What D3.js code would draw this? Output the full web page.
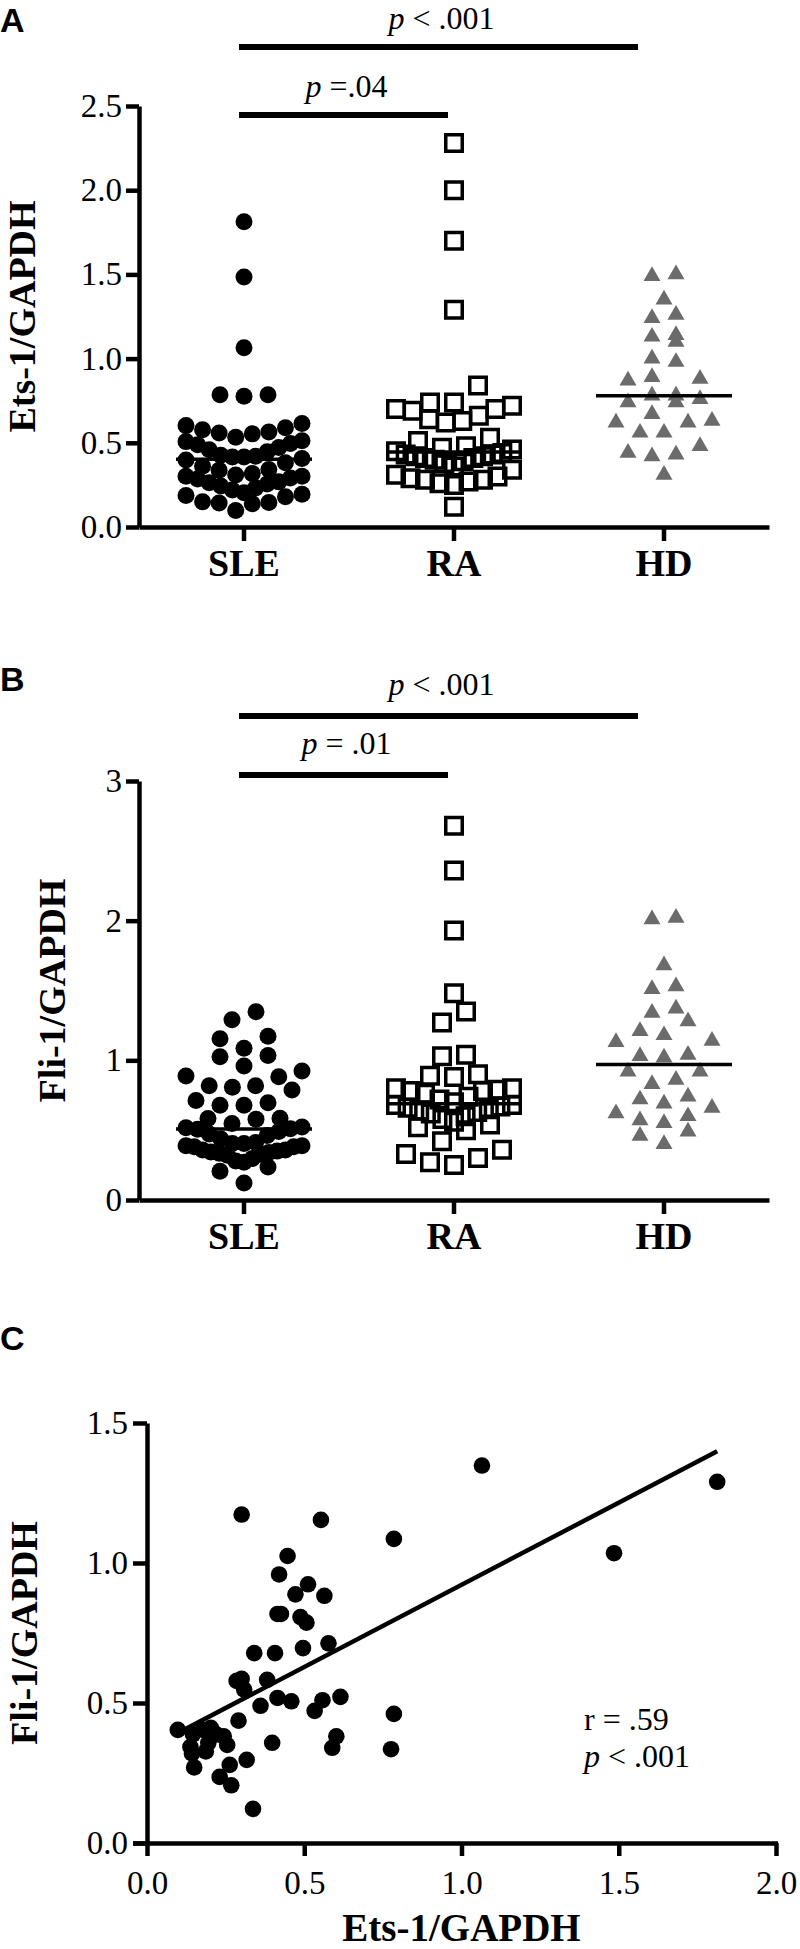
<!DOCTYPE html>
<html lang="en">
<head>
<meta charset="UTF-8">
<title>Ets-1 and Fli-1 expression in SLE, RA and HD</title>
<script src="https://cdn.jsdelivr.net/npm/d3@7"></script>
<style>
    body { margin: 0; background: #fff; }
</style>
</head>
<body>
<script>
    // SLE patients, paired values (same patients in A, B and C)
    var sleEts = [1.065, 1.813, 1.485, 0.785, 0.301, 0.553, 0.447, 0.42, 0.512, 0.472,
        0.564, 0.415, 0.426, 0.488, 0.507, 0.496, 0.577, 0.341, 0.407, 0.285,
        0.301, 0.309, 0.382, 0.361, 0.415, 0.459, 0.533, 0.558, 0.615, 0.291,
        0.098, 0.146, 0.179, 0.203, 0.22, 0.244, 0.195, 0.255, 0.138, 0.143,
        0.187, 0.398, 0.602, 0.589, 0.785, 0.776, 0.15, 0.317, 0.231, 0.263,
        0.268, 0.337];
    var sleFli = [1.348, 1.29, 1.035, 1.086, 1.173, 1.154, 1.025, 0.959, 0.924, 0.888,
        0.883, 0.818, 0.818, 0.807, 0.787, 0.696, 0.713, 0.678, 0.678, 0.579,
        0.586, 0.548, 0.583, 0.49, 0.518, 0.506, 0.472, 0.51, 0.522, 0.437,
        0.404, 0.388, 0.404, 0.411, 0.388, 0.381, 0.358, 0.35, 0.343, 0.32,
        0.327, 0.358, 0.381, 0.34, 0.461, 0.335, 0.27, 0.297, 0.236, 0.279,
        0.206, 0.122];
    var raEts = [2.28, 2.00, 1.70, 1.29, 0.84, 0.74, 0.74, 0.72, 0.70, 0.70,
        0.69, 0.66, 0.64, 0.63, 0.62, 0.53, 0.51, 0.48, 0.47, 0.46,
        0.45, 0.44, 0.43, 0.43, 0.42, 0.42, 0.41, 0.41, 0.40, 0.39,
        0.38, 0.36, 0.34, 0.31, 0.30, 0.29, 0.28, 0.28, 0.27, 0.26,
        0.25, 0.12];
    var hdEts = [1.50, 1.49, 1.35, 1.26, 1.24, 1.14, 1.13, 1.10, 1.00, 0.98,
        0.89, 0.88, 0.87, 0.78, 0.78, 0.76, 0.74, 0.74, 0.67, 0.63,
        0.62, 0.62, 0.56, 0.56, 0.48, 0.44, 0.43, 0.42, 0.31];
    var raFli = [2.68, 2.36, 1.93, 1.48, 1.35, 1.27, 1.04, 1.03, 0.90, 0.89,
        0.88, 0.80, 0.80, 0.79, 0.78, 0.78, 0.76, 0.74, 0.72, 0.70,
        0.68, 0.68, 0.67, 0.66, 0.65, 0.64, 0.63, 0.62, 0.60, 0.58,
        0.56, 0.54, 0.52, 0.50, 0.42, 0.36, 0.33, 0.30, 0.27, 0.25];
    var hdFli = [2.02, 2.01, 1.68, 1.53, 1.51, 1.37, 1.34, 1.28, 1.21, 1.18,
        1.14, 1.13, 1.04, 1.03, 1.02, 0.92, 0.92, 0.86, 0.83, 0.74,
        0.72, 0.69, 0.66, 0.62, 0.60, 0.57, 0.55, 0.49, 0.46, 0.40];

    var groups = ["SLE", "RA", "HD"];
    var etsTicks = [0, 0.5, 1, 1.5, 2, 2.5];
    var fliTicks = [0, 1, 2, 3];
    var corrXTicks = [0, 0.5, 1, 1.5, 2];
    var corrYTicks = [0, 0.5, 1, 1.5];
    // least squares line drawn in panel C (ends at min / max Ets-1)
    var fitLine = [[0.098, 0.393], [1.813, 1.399]];
    var pTextsA = ["=.04", "< .001"];
    var pTextsB = ["= .01", "< .001"];
    var corrTexts = ["r = .59", "< .001"];

    var serif = "'Liberation Serif', 'Times New Roman', serif";
    var sans = "'Liberation Sans', Arial, sans-serif";
    var W = 800, H = 1949;

    var svg = d3.select("body").append("svg")
        .attr("width", W)
        .attr("height", H);

    var markers = {
        SLE: { shape: d3.symbolCircle, size: Math.PI * 8.5 * 8.5, fill: "#000", stroke: "none", sw: 0 },
        RA: { shape: d3.symbolSquare, size: 16.5 * 16.5, fill: "none", stroke: "#000", sw: 3.5 },
        HD: { shape: d3.symbolTriangle, size: 125, fill: "#6b6b6b", stroke: "none", sw: 0 }
    };

    // GraphPad style column scatter: values are grouped in rows, the lowest
    // value of a row sits in the middle and the rest spread out to both sides
    function columnSwarm(values, y, binPx, gap, half) {
        var pts = values.map(function (v) { return { v: v, py: y(v) }; })
            .sort(function (a, b) { return a.v - b.v; });
        var bins = [], cur = null;
        pts.forEach(function (p) {
            if (!cur || cur.start - p.py > binPx) {
                cur = { start: p.py, items: [] };
                bins.push(cur);
            }
            cur.items.push(p);
        });
        bins.forEach(function (b) {
            var n = b.items.length;
            var step = n > 1 ? Math.min(gap, 2 * half / (n - 1)) : 0;
            b.items.forEach(function (p, i) {
                var k;
                if (n % 2) {
                    k = i === 0 ? 0 : (i % 2 ? -(i + 1) / 2 : i / 2);
                } else {
                    k = (i % 2 ? 1 : -1) * (Math.floor(i / 2) + 0.5);
                }
                p.dx = k * step;
            });
        });
        return pts;
    }

    function styleAxis(g, fontSize, bold) {
        g.attr("font-family", serif)
            .attr("font-size", fontSize)
            .attr("font-weight", bold ? "bold" : "normal");
        g.select(".domain").attr("stroke-width", 4.5);
        g.selectAll(".tick line").attr("stroke-width", 4.5);
        g.selectAll(".tick text").attr("fill", "#000");
    }

    function pLabel(parent, cx, baseline, rest) {
        var t = parent.append("text")
            .attr("x", cx)
            .attr("y", baseline)
            .attr("text-anchor", "middle")
            .attr("font-family", serif)
            .attr("font-size", 32);
        t.append("tspan").attr("font-style", "italic").text("p");
        t.append("tspan").text(" " + rest);
    }

    function dotPanel(cfg) {
        var g = svg.append("g");
        var x = d3.scaleBand().domain(groups).range([cfg.left, cfg.right]);
        var y = d3.scaleLinear().domain(cfg.domain).range([cfg.bottom, cfg.top]);
        var cx = function (d) { return x(d) + x.bandwidth() / 2; };

        g.append("text")
            .attr("x", 0)
            .attr("y", cfg.letterY)
            .attr("font-family", sans)
            .attr("font-weight", "bold")
            .attr("font-size", 34)
            .text(cfg.letter);

        var ya = g.append("g")
            .attr("transform", "translate(" + cfg.left + ",0)")
            .call(d3.axisLeft(y).tickValues(cfg.ticks).tickFormat(cfg.fmt)
                .tickSize(13).tickSizeOuter(0).tickPadding(4));
        styleAxis(ya, 33, false);

        var xa = g.append("g")
            .attr("transform", "translate(0," + cfg.bottom + ")")
            .call(d3.axisBottom(x).tickSize(14).tickSizeOuter(0).tickPadding(8));
        styleAxis(xa, 38, true);

        g.append("text")
            .attr("transform", "translate(" + cfg.titleX + "," + (cfg.top + cfg.bottom) / 2 + ") rotate(-90)")
            .attr("text-anchor", "middle")
            .attr("font-family", serif)
            .attr("font-weight", "bold")
            .attr("font-size", 38)
            .text(cfg.title);

        cfg.series.forEach(function (vals, gi) {
            var name = groups[gi];
            var m = markers[name];
            var pts = columnSwarm(vals, y, 17, 24, 58);
            g.append("g").selectAll("path")
                .data(pts)
                .enter()
                .append("path")
                .attr("d", d3.symbol().type(m.shape).size(m.size))
                .attr("transform", function (d) {
                    return "translate(" + (cx(name) + d.dx) + "," + d.py + ")";
                })
                .attr("fill", m.fill)
                .attr("stroke", m.stroke)
                .attr("stroke-width", m.sw);
            var med = d3.median(vals);
            g.append("line")
                .attr("x1", cx(name) - 68)
                .attr("x2", cx(name) + 68)
                .attr("y1", y(med))
                .attr("y2", y(med))
                .attr("stroke", "#000")
                .attr("stroke-width", 3.5);
        });

        // significance brackets: SLE vs RA (lower) and SLE vs HD (upper)
        var bars = [
            { x1: cx("SLE") - 5, x2: cx("RA") - 6, y: cfg.barY[0], ty: cfg.textY[0], t: cfg.pTexts[0] },
            { x1: cx("SLE") - 5, x2: cx("HD") - 26, y: cfg.barY[1], ty: cfg.textY[1], t: cfg.pTexts[1] }
        ];
        bars.forEach(function (b) {
            g.append("line")
                .attr("x1", b.x1).attr("x2", b.x2)
                .attr("y1", b.y).attr("y2", b.y)
                .attr("stroke", "#000")
                .attr("stroke-width", 6);
            pLabel(g, (b.x1 + b.x2) / 2 + 3, b.ty, b.t);
        });
    }

    dotPanel({
        letter: "A", letterY: 32,
        left: 139, right: 769, top: 106, bottom: 527,
        domain: [0, 2.5], ticks: etsTicks, fmt: d3.format(".1f"),
        title: "Ets-1/GAPDH", titleX: 35,
        series: [sleEts, raEts, hdEts],
        barY: [115, 47], textY: [97, 29], pTexts: pTextsA
    });

    dotPanel({
        letter: "B", letterY: 691,
        left: 139, right: 769, top: 781, bottom: 1200,
        domain: [0, 3], ticks: fliTicks, fmt: d3.format("d"),
        title: "Fli-1/GAPDH", titleX: 65,
        series: [sleFli, raFli, hdFli],
        barY: [775, 716], textY: [754, 695], pTexts: pTextsB
    });

    // panel C: correlation in SLE
    function corrPanel() {
        var g = svg.append("g");
        var x = d3.scaleLinear().domain([0, 2]).range([147, 776]);
        var y = d3.scaleLinear().domain([0, 1.5]).range([1843, 1423]);

        g.append("text")
            .attr("x", 0)
            .attr("y", 1350)
            .attr("font-family", sans)
            .attr("font-weight", "bold")
            .attr("font-size", 34)
            .text("C");

        var ya = g.append("g")
            .attr("transform", "translate(147,0)")
            .call(d3.axisLeft(y).tickValues(corrYTicks).tickFormat(d3.format(".1f"))
                .tickSize(14).tickSizeOuter(0).tickPadding(5));
        styleAxis(ya, 33, false);

        var xa = g.append("g")
            .attr("transform", "translate(0,1843)")
            .call(d3.axisBottom(x).tickValues(corrXTicks).tickFormat(d3.format(".1f"))
                .tickSize(13).tickSizeOuter(0).tickPadding(15));
        styleAxis(xa, 33, false);
        // x axis line reaches the y tick at 0.0
        xa.select(".domain").attr("d", "M133,0.5H778");

        g.append("text")
            .attr("transform", "translate(37,1633) rotate(-90)")
            .attr("text-anchor", "middle")
            .attr("font-family", serif)
            .attr("font-weight", "bold")
            .attr("font-size", 38)
            .text("Fli-1/GAPDH");

        g.append("text")
            .attr("x", (x.range()[0] + x.range()[1]) / 2)
            .attr("y", 1941)
            .attr("text-anchor", "middle")
            .attr("font-family", serif)
            .attr("font-weight", "bold")
            .attr("font-size", 39)
            .text("Ets-1/GAPDH");

        g.selectAll("circle")
            .data(sleEts)
            .enter()
            .append("circle")
            .attr("cx", function (d) { return x(d); })
            .attr("cy", function (d, i) { return y(sleFli[i]); })
            .attr("r", 8.3)
            .attr("fill", "#000");

        g.append("path")
            .datum(fitLine)
            .attr("d", d3.line().x(function (d) { return x(d[0]); }).y(function (d) { return y(d[1]); }))
            .attr("stroke", "#000")
            .attr("stroke-width", 4.5)
            .attr("fill", "none");

        g.append("text")
            .attr("x", 584)
            .attr("y", 1730)
            .attr("font-family", serif)
            .attr("font-size", 32)
            .text(corrTexts[0]);
        var t = g.append("text")
            .attr("x", 584)
            .attr("y", 1767)
            .attr("font-family", serif)
            .attr("font-size", 32);
        t.append("tspan").attr("font-style", "italic").text("p");
        t.append("tspan").text(" " + corrTexts[1]);
    }
    corrPanel();
</script>
</body>
</html>
